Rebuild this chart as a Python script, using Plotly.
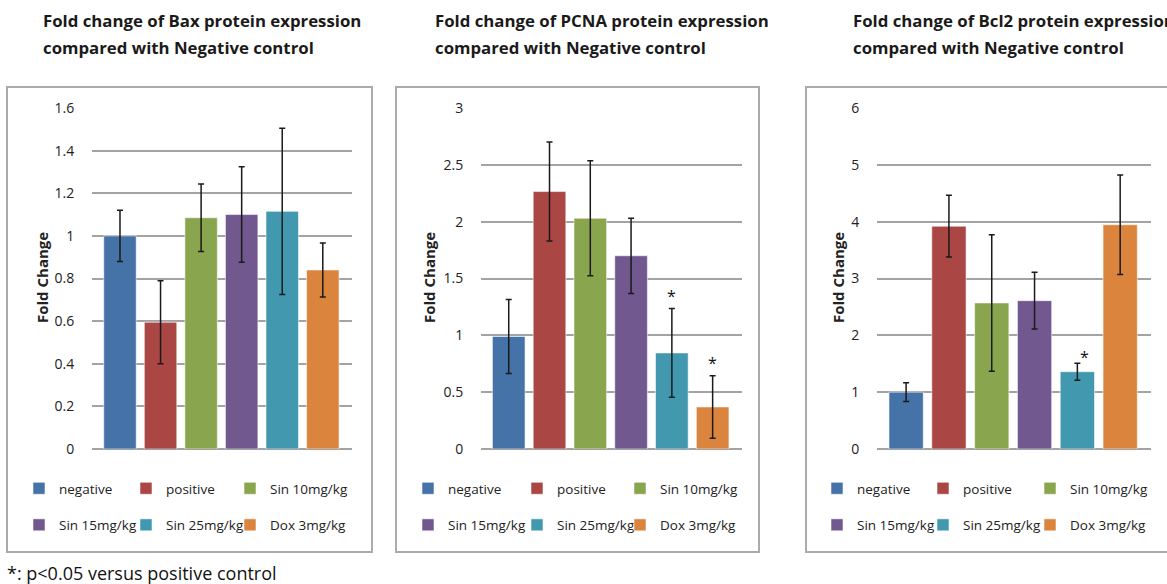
import plotly.graph_objects as go

W, H = 1167, 584

groups = ["negative", "positive", "Sin 10mg/kg", "Sin 15mg/kg", "Sin 25mg/kg", "Dox 3mg/kg"]
colors = ["#4572A7", "#AA4643", "#89A54E", "#71588F", "#4198AF", "#DB843D"]

bax_vals = [1.00, 0.595, 1.085, 1.10, 1.115, 0.84]
bax_err = [0.12, 0.195, 0.158, 0.224, 0.39, 0.127]
pcna_vals = [0.99, 2.265, 2.03, 1.70, 0.845, 0.37]
pcna_err = [0.325, 0.436, 0.505, 0.331, 0.39, 0.275]
bcl2_vals = [1.00, 3.92, 2.57, 2.61, 1.36, 3.945]
bcl2_err = [0.165, 0.543, 1.20, 0.50, 0.15, 0.875]

bax_sig = []
pcna_sig = [4, 5]
bcl2_sig = [4]

title_line1 = [
    "Fold change of Bax protein expression",
    "Fold change of PCNA protein expression",
    "Fold change of Bcl2 protein expression",
]
title_line2 = "compared with Negative control"
y_ranges = [[0, 1.6], [0, 3], [0, 6]]
y_dticks = [0.2, 0.5, 1]
y_label = "Fold Change"
footnote = "*: p<0.05 versus positive control"

panels = [
    (bax_vals, bax_err, bax_sig),
    (pcna_vals, pcna_err, pcna_sig),
    (bcl2_vals, bcl2_err, bcl2_sig),
]

# layout geometry (pixels)
plot_x = [(92, 352), (481, 742), (877, 1151)]
plot_y = (108, 449)
boxes = [(7, 372), (396, 759), (806, 1175)]
box_y = (87, 552)
title_x = [41, 433, 851]
title_y = [21, 47]
ylab_x = [42, 429, 838]
x_ranges = [[-0.69, 5.72], [-0.68, 5.72], [-0.68, 5.72]]
legend_col_x = [[39, 146, 250], [428, 537, 640], [837, 943, 1050]]
legend_top_y = 473
star_shift = [(0, 6), (0, 6), (7, -1)]

FONT = "Open Sans"

fig = go.Figure()

for p, (vals, errs, sig) in enumerate(panels):
    xa = "x" if p == 0 else f"x{p+1}"
    ya = "y" if p == 0 else f"y{p+1}"
    for i, g in enumerate(groups):
        lg_idx = 3 * p + (i % 3) + 1
        lg = "legend" if lg_idx == 1 else f"legend{lg_idx}"
        fig.add_trace(go.Bar(
            x=[i], y=[vals[i]], name=g, xaxis=xa, yaxis=ya,
            width=0.8,
            marker=dict(color=colors[i], line=dict(color="rgba(255,255,255,0.55)", width=1)),
            error_y=dict(type="data", array=[errs[i]], visible=True,
                         color="#1a1a1a", thickness=1.5, width=3),
            legend=lg, legendgroup=f"p{p}g{i}", showlegend=True,
        ))
    for i in sig:
        fig.add_annotation(x=i, y=vals[i] + errs[i], xref=xa, yref=ya,
                           text="*", showarrow=False, yanchor="bottom",
                           xshift=star_shift[p][0], yshift=star_shift[p][1] - 6,
                           font=dict(family=FONT, size=16, color="#111"))

layout = dict(
    width=W, height=H, margin=dict(l=0, r=0, t=0, b=0, autoexpand=False),
    paper_bgcolor="white", plot_bgcolor="white",
    barmode="overlay", showlegend=True,
    font=dict(family=FONT, color="#222"),
)

for p in range(3):
    xk = "xaxis" if p == 0 else f"xaxis{p+1}"
    yk = "yaxis" if p == 0 else f"yaxis{p+1}"
    x0, x1 = plot_x[p]
    layout[xk] = dict(domain=[x0 / W, x1 / W], range=x_ranges[p],
                      showticklabels=False, showgrid=False, zeroline=False,
                      showline=False, fixedrange=True, automargin=False,
                      anchor="y" if p == 0 else f"y{p+1}")
    layout[yk] = dict(domain=[1 - plot_y[1] / H, 1 - plot_y[0] / H],
                      range=y_ranges[p], dtick=y_dticks[p], tick0=0,
                      showgrid=True, gridcolor="#a3a3a3", gridwidth=1.5,
                      zeroline=True, zerolinecolor="#a3a3a3", zerolinewidth=1.5,
                      showline=False, ticks="outside", ticklen=14,
                      tickcolor="rgba(0,0,0,0)", automargin=False, fixedrange=True,
                      tickfont=dict(family=FONT, size=14, color="#222"),
                      anchor="x" if p == 0 else f"x{p+1}")

    for c in range(3):
        lg_idx = 3 * p + c + 1
        lk = "legend" if lg_idx == 1 else f"legend{lg_idx}"
        layout[lk] = dict(
            orientation="v", x=(legend_col_x[p][c] - 20) / W, xanchor="left",
            y=1 - legend_top_y / H, yanchor="top",
            tracegroupgap=16,
            font=dict(family=FONT, size=13.5, color="#222"),
            bgcolor="rgba(0,0,0,0)", borderwidth=0,
            itemclick=False, itemdoubleclick=False,
        )

fig.update_layout(**layout)

shapes = []
for p in range(3):
    bx0, bx1 = boxes[p]
    shapes.append(dict(type="rect", xref="paper", yref="paper",
                       x0=bx0 / W, x1=bx1 / W, y0=1 - box_y[1] / H, y1=1 - box_y[0] / H,
                       line=dict(color="#ababab", width=2), layer="below"))
fig.update_layout(shapes=shapes)

for p in range(3):
    for k, txt in enumerate([title_line1[p], title_line2]):
        fig.add_annotation(x=title_x[p] / W, y=1 - title_y[k] / H, xref="paper", yref="paper",
                           xanchor="left", yanchor="middle", align="left",
                           text="<b>" + txt + "</b>", showarrow=False,
                           font=dict(family=FONT, size=16.8, color="#1a1a1a"))
    fig.add_annotation(x=ylab_x[p] / W, y=1 - 278 / H, xref="paper", yref="paper",
                       xanchor="center", yanchor="middle", textangle=-90,
                       text="<b>" + y_label + "</b>", showarrow=False,
                       font=dict(family=FONT, size=15, color="#222"))

fig.add_annotation(x=5 / W, y=1 - 573 / H, xref="paper", yref="paper",
                   xanchor="left", yanchor="middle", text=footnote, showarrow=False,
                   font=dict(family=FONT, size=18, color="#111"))

fig.write_html("out.html")
